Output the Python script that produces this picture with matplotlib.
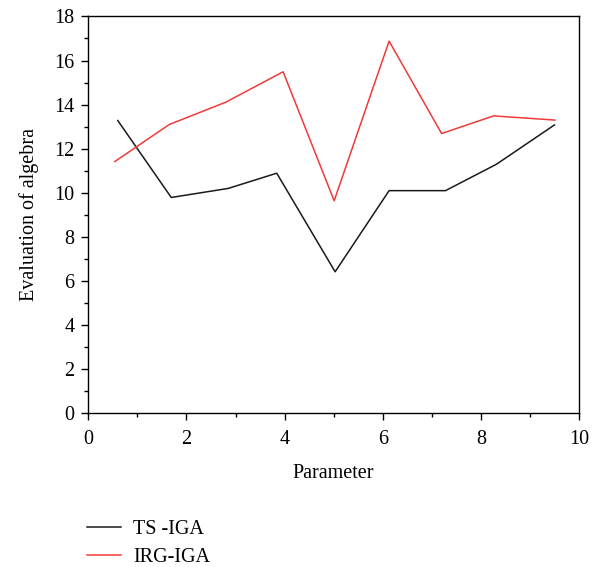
import matplotlib.pyplot as plt
from matplotlib.ticker import MultipleLocator

# data
ts_x = [0.60, 1.69, 2.85, 3.84, 5.03, 6.13, 7.28, 8.32, 9.50]
ts_y = [13.28, 9.79, 10.2, 10.89, 6.42, 10.1, 10.1, 11.3, 13.08]
irg_x = [0.54, 1.65, 2.80, 3.97, 5.01, 6.13, 7.20, 8.26, 9.51]
irg_y = [11.42, 13.1, 14.11, 15.49, 9.64, 16.88, 12.69, 13.49, 13.3]

plt.rcParams['font.family'] = ['Liberation Serif', 'DejaVu Serif']
plt.rcParams['font.size'] = 14.5

fig = plt.figure(figsize=(6.05, 5.67), dpi=100)
ax = fig.add_axes([0.146, 0.271, 0.811, 0.700])

ax.plot(ts_x, ts_y, color='#1a1a1a', lw=1.1, label='TS -IGA')
ax.plot(irg_x, irg_y, color='#f03a3a', lw=1.1, label='IRG-IGA')

ax.set_xlim(0, 10)
ax.set_ylim(0, 18)
ax.xaxis.set_major_locator(MultipleLocator(2))
ax.xaxis.set_minor_locator(MultipleLocator(1))
ax.yaxis.set_major_locator(MultipleLocator(2))
ax.yaxis.set_minor_locator(MultipleLocator(1))
ax.tick_params(which='major', direction='out', length=5, width=1, labelsize=14.5)
ax.tick_params(axis='x', which='major', pad=7)
ax.tick_params(axis='y', which='major', pad=5)
ax.tick_params(which='minor', direction='out', length=3, width=1)
for s in ax.spines.values():
    s.set_linewidth(1)

ax.set_xlabel('Parameter', fontsize=14.5, labelpad=11)
ax.set_ylabel('Evaluation of algebra', fontsize=14.5, labelpad=11)

fig.legend(loc='upper left', bbox_to_anchor=(0.143, 0.083), frameon=False,
           handlelength=1.7, handletextpad=0.6, labelspacing=0.45,
           borderpad=0, borderaxespad=0, fontsize=14.5)

fig.savefig('out.png', dpi=100)
